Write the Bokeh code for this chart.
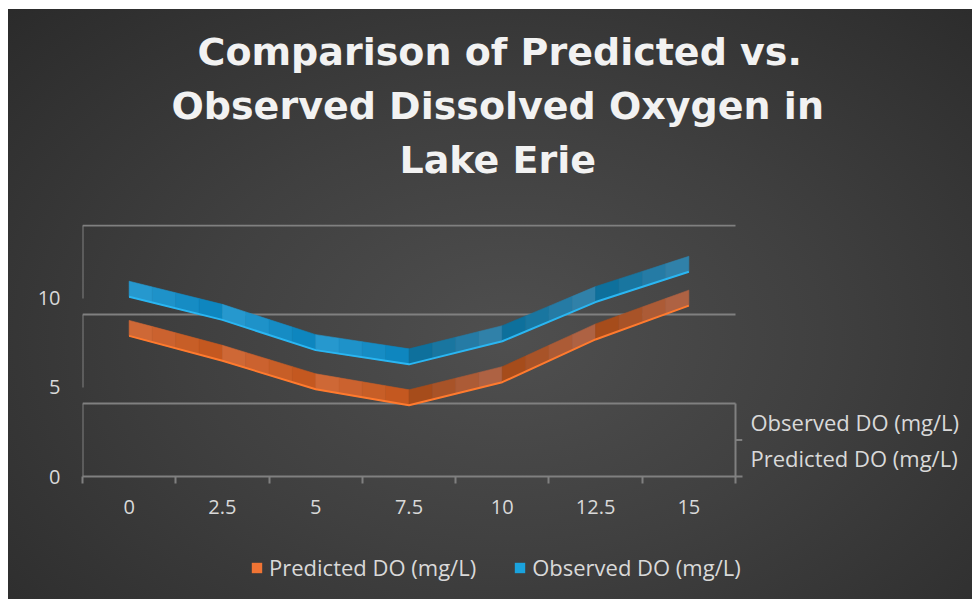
from bokeh.plotting import figure
from bokeh.layouts import column
from bokeh.models import (Range1d, FixedTicker, Legend, LegendItem, Title,
                          ColumnDataSource, LinearAxis)
from bokeh.embed import file_html
from bokeh.resources import INLINE

# ---------------- data ----------------
categories = ["0", "2.5", "5", "7.5", "10", "12.5", "15"]
predicted = [7.9, 6.5, 4.9, 4.0, 5.3, 7.7, 9.6]
observed = [10.1, 8.8, 7.1, 6.3, 7.6, 9.8, 11.5]
y_ticks = [0, 5, 10]
series_names = ["Predicted DO (mg/L)", "Observed DO (mg/L)"]
title_lines = ["Comparison of Predicted vs.",
               "Observed Dissolved Oxygen in",
               "Lake Erie"]

# ---------------- style ----------------
GRID = "#808080"
TXT = "#d9d9d9"
FONT = "Open Sans"
ORANGE = {"fall": ("#d06a3a", "#c2561c"), "rise": ("#a44814", "#b0664a"),
          "edge": "#ff7a2e", "legend": "#f07434"}
BLUE = {"fall": ("#2a9bd1", "#0a83bc"), "rise": ("#086d9a", "#3684ab"),
        "edge": "#2ab6f2", "legend": "#1aa3de"}
thickness = 0.87   # visual ribbon height (3D look)
depth = 4.1        # visual wall depth
side_pos = [1.03, 3.07]  # positions of the depth-axis labels

W = 964
H_MAIN, H_LEG = 527, 63
n = len(categories)
idx = list(range(n))

p = figure(width=W, height=H_MAIN, output_backend="svg", toolbar_location=None,
           x_range=Range1d(-0.5, n - 0.5 + 0.075), y_range=Range1d(0, 14.157),
           min_border_left=74, min_border_right=230,
           min_border_top=215, min_border_bottom=60,
           border_fill_color=None, background_fill_color=None,
           outline_line_color=None)

p.xgrid.visible = False
p.ygrid.visible = False

# x axis
xa = p.xaxis[0]
xa.ticker = FixedTicker(ticks=idx, minor_ticks=[i - 0.5 for i in range(n + 1)])
xa.major_label_overrides = {i: c for i, c in enumerate(categories)}
xa.major_tick_line_color = None
xa.major_tick_out = 0
xa.major_tick_in = 0
xa.minor_tick_line_color = GRID
xa.minor_tick_line_width = 2
xa.minor_tick_out = 7
xa.minor_tick_in = 0
xa.axis_line_color = GRID
xa.axis_line_width = 2
xa.major_label_standoff = 16
xa.major_label_text_font = FONT
xa.major_label_text_font_size = "20px"
xa.major_label_text_color = TXT

# y axis
ya = p.yaxis[0]
ya.ticker = FixedTicker(ticks=y_ticks, minor_ticks=[])
ya.axis_line_color = None
ya.major_tick_line_color = None
ya.major_tick_out = 0
ya.major_tick_in = 0
ya.minor_tick_line_color = None
ya.major_label_standoff = 22
ya.major_label_text_font = FONT
ya.major_label_text_font_size = "20px"
ya.major_label_text_color = TXT

# depth (series) axis on the right
ra = LinearAxis(ticker=FixedTicker(ticks=side_pos, minor_ticks=[]),
                major_label_overrides={side_pos[0]: series_names[0],
                                       side_pos[1]: series_names[1]},
                axis_line_color=None, major_tick_line_color=None,
                major_tick_out=0, major_tick_in=0, minor_tick_line_color=None,
                major_label_standoff=8, major_label_text_font=FONT,
                major_label_text_font_size="22px", major_label_text_color=TXT)
p.add_layout(ra, "right")

# walls (3D-like boxes)
x0s, y0s, x1s, y1s = [], [], [], []
for lev in y_ticks:
    x0s += [-0.5, -0.5]
    y0s += [lev + depth, lev]
    x1s += [n - 0.5, -0.5]
    y1s += [lev + depth, lev + depth]
x0s += [n - 0.5, n - 0.5]
y0s += [0, depth / 2]
x1s += [n - 0.5, n - 0.5 + 0.075]
y1s += [depth, depth / 2]
p.segment(x0=x0s, y0=y0s, x1=x1s, y1=y1s, line_color=GRID, line_width=2)


def mix(c1, c2, t):
    a = [int(c1[k:k + 2], 16) for k in (1, 3, 5)]
    b = [int(c2[k:k + 2], 16) for k in (1, 3, 5)]
    return "#%02x%02x%02x" % tuple(round(a[j] + (b[j] - a[j]) * t) for j in range(3))


def ribbon(vals, pal, steps=4):
    xs, ys, cols = [], [], []
    for i in range(len(vals) - 1):
        c_left, c_right = pal["fall"] if vals[i + 1] < vals[i] else pal["rise"]
        for s in range(steps):
            f0, f1 = s / steps, (s + 1) / steps
            xa0, xa1 = i + f0, i + f1
            ya0 = vals[i] + (vals[i + 1] - vals[i]) * f0
            ya1 = vals[i] + (vals[i + 1] - vals[i]) * f1
            xs.append([xa0, xa1, xa1, xa0])
            ys.append([ya0, ya1, ya1 + thickness, ya0 + thickness])
            cols.append(mix(c_left, c_right, (s + 0.5) / steps))
    src = ColumnDataSource(dict(xs=xs, ys=ys, c=cols))
    p.patches("xs", "ys", source=src, fill_color="c", line_color="c", line_width=0.6)
    p.line(idx, vals, line_color=pal["edge"], line_width=2)


ribbon(observed, BLUE)
ribbon(predicted, ORANGE)

# spacer between the title and the plot area, then the three centred title lines
p.add_layout(Title(text=" ", text_font_size="20px", standoff=15), "above")
offsets = [115, 89, 317]
for line, off in reversed(list(zip(title_lines, offsets))):
    p.add_layout(Title(text=line, align="left", offset=off, standoff=8,
                       text_font="DejaVu Sans", text_font_style="bold",
                       text_font_size="38px", text_color="#f2f2f2"), "above")

# legend strip
nan = float("nan")
pl = figure(width=W, height=H_LEG, output_backend="svg", toolbar_location=None,
            x_axis_type=None, y_axis_type=None, x_range=Range1d(0, 1),
            y_range=Range1d(0, 1), min_border=0,
            border_fill_color=None, background_fill_color=None,
            outline_line_color=None)
pl.xgrid.visible = False
pl.ygrid.visible = False
r1 = pl.quad(left=[nan], right=[nan], top=[nan], bottom=[nan],
             fill_color=ORANGE["legend"], line_color=None)
r2 = pl.quad(left=[nan], right=[nan], top=[nan], bottom=[nan],
             fill_color=BLUE["legend"], line_color=None)
legend = Legend(items=[LegendItem(label=series_names[0], renderers=[r1]),
                       LegendItem(label=series_names[1], renderers=[r2])],
                location=(168, 17), orientation="horizontal",
                glyph_width=13, glyph_height=13, label_standoff=6, spacing=37,
                padding=0, margin=0, border_line_color=None,
                background_fill_alpha=0,
                label_text_font=FONT, label_text_font_size="22px",
                label_text_color=TXT)
pl.add_layout(legend)

layout = column(p, pl, spacing=0)
layout.styles = {"margin-left": "8px", "margin-top": "9px",
                 "background": "radial-gradient(ellipse 72% 80% at 52% 56%, #4f4f4f 0%, #404040 45%, #2b2b2b 100%)"}

open("out.html", "w").write(file_html(layout, INLINE))
